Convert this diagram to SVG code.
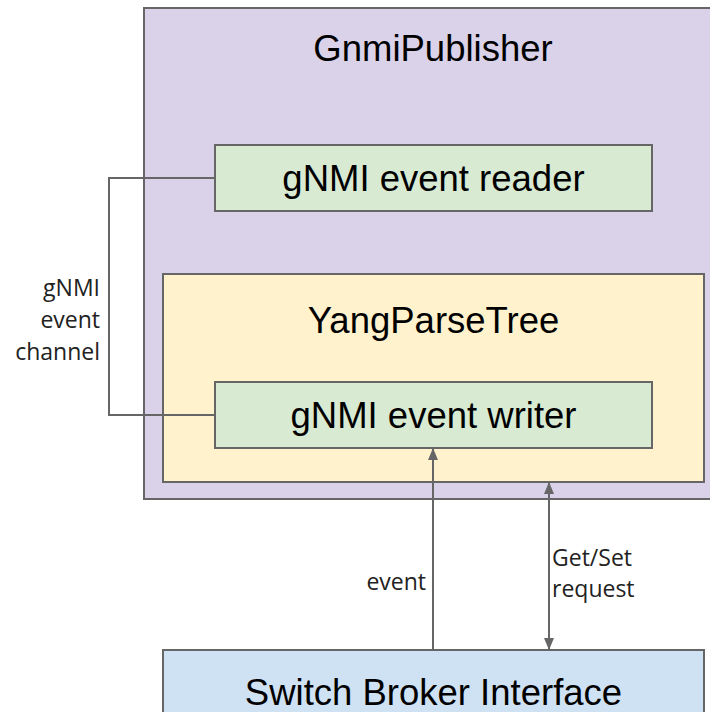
<svg xmlns="http://www.w3.org/2000/svg" width="710" height="712" viewBox="0 0 710 712">
<style>
.box{stroke:#666666;stroke-width:2}
.big{font-family:"Liberation Sans",Arial,sans-serif;font-size:36.5px;fill:#000;text-anchor:middle}
.small{font-family:"Open Sans","Noto Sans",sans-serif;font-size:23px;fill:#222}
.conn{fill:none;stroke:#666666;stroke-width:2}
</style>
<defs>
<marker id="ah" viewBox="0 0 12 10" refX="11" refY="5" markerWidth="12" markerHeight="10" markerUnits="userSpaceOnUse" orient="auto-start-reverse">
<path d="M0,0 L12,5 L0,10 Z" fill="#666666"/>
</marker>
</defs>
<rect width="710" height="712" fill="#ffffff"/>
<g id="gnmi-publisher">
<rect class="box" x="144" y="8" width="590" height="491" fill="#d9d2e9"/>
<text class="big" x="433" y="61">GnmiPublisher</text>
</g>
<g id="gnmi-event-reader">
<rect class="box" x="215" y="145" width="437" height="66" fill="#d9ead3"/>
<text class="big" x="433.5" y="191">gNMI event reader</text>
</g>
<g id="yang-parse-tree">
<rect class="box" x="163" y="274" width="541" height="208" fill="#fff2cc"/>
<text class="big" x="433.5" y="333">YangParseTree</text>
</g>
<g id="gnmi-event-writer">
<rect class="box" x="215" y="382" width="437" height="66" fill="#d9ead3"/>
<text class="big" x="433.5" y="428">gNMI event writer</text>
</g>
<g id="switch-broker-interface">
<rect class="box" x="163" y="650" width="541" height="80" fill="#cfe2f3"/>
<text class="big" x="433.5" y="705">Switch Broker Interface</text>
</g>
<g id="connectors">
<polyline class="conn" points="215,178 109,178 109,415 215,415"/>
<line class="conn" x1="433" y1="650" x2="433" y2="449" marker-end="url(#ah)"/>
<line class="conn" x1="549" y1="483" x2="549" y2="649" marker-start="url(#ah)" marker-end="url(#ah)"/>
<text class="small" text-anchor="end"><tspan x="100" y="296">gNMI</tspan><tspan x="100" y="328">event</tspan><tspan x="100" y="360">channel</tspan></text>
<text class="small" text-anchor="end" x="426" y="590">event</text>
<text class="small"><tspan x="552" y="566">Get/Set</tspan><tspan x="552" y="597">request</tspan></text>
</g>
</svg>
